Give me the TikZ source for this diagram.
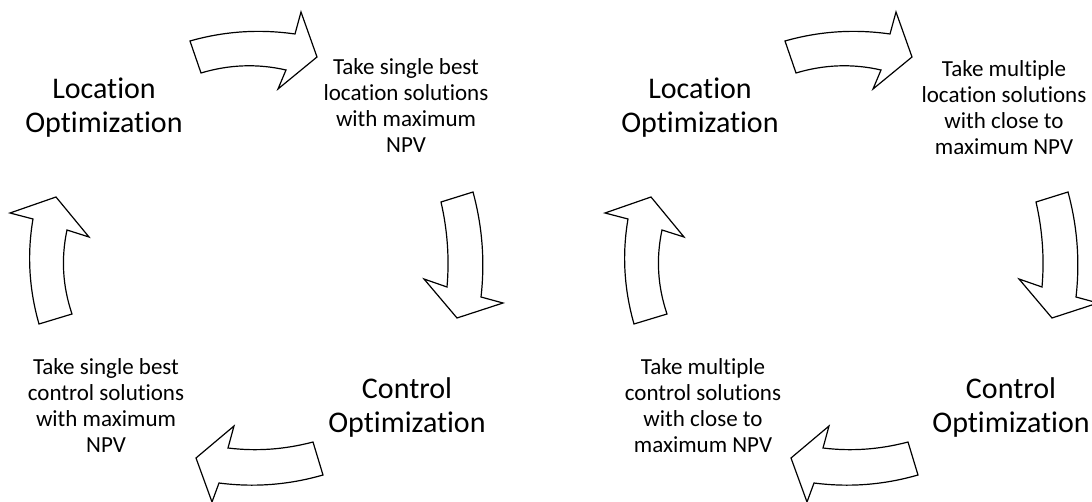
\documentclass[tikz,border=0pt]{standalone}
\usepackage{fontspec}
\setmainfont{Carlito}[RawFeature=-liga]
\usepackage{tikz}

\begin{document}
\begin{tikzpicture}
	[
		x=1pt, y=-1pt,
		stage/.style = {align=center, anchor=center, inner sep=0pt, font=\fontsize{30}{34}\selectfont},
		pick/.style = {align=center, anchor=center, inner sep=0pt, font=\fontsize{23}{26}\selectfont},
		cyclearrow/.style = {draw=black, fill=white, line width=1.2pt, line join=miter}
	]
	
	\useasboundingbox (0,0) rectangle (1092,502);
	
	\def\x{0}
	
	\node [stage] (locA) at ({\x + 104}, 108) {Location\\Optimization};
	\node [pick] (takeLocA) at ({\x + 406}, 106) {Take single best\\location solutions\\with maximum\\NPV};
	\node [stage] (ctrlA) at ({\x + 407}, 408) {Control\\Optimization};
	\node [pick] (takeCtrlA) at ({\x + 106}, 406) {Take single best\\control solutions\\with maximum\\NPV};
	
	\draw [cyclearrow] ({\x + 190}, 41) .. controls ({\x + 225}, 31) and ({\x + 260}, 29) .. ({\x + 295}, 34)
		-- ({\x + 301}, 12) -- ({\x + 317}, 57) -- ({\x + 278}, 89) -- ({\x + 286}, 70)
		.. controls ({\x + 257.7}, 63.5) and ({\x + 229.3}, 64.5) .. ({\x + 201}, 73) -- cycle;
	\draw [cyclearrow] ({\x + 441}, 202) -- ({\x + 473}, 192)
		.. controls ({\x + 482.5}, 227) and ({\x + 485}, 262) .. ({\x + 481}, 297)
		-- ({\x + 503}, 303) -- ({\x + 457}, 318) -- ({\x + 424}, 279) -- ({\x + 447}, 287)
		.. controls ({\x + 449.5}, 258.7) and ({\x + 447.5}, 230.3) .. ({\x + 441}, 202) -- cycle;
	\draw [cyclearrow] ({\x + 313}, 442) .. controls ({\x + 284.7}, 449.5) and ({\x + 256.3}, 451.5) .. ({\x + 228}, 448)
		-- ({\x + 234}, 426) -- ({\x + 196}, 458) -- ({\x + 212}, 502) -- ({\x + 219}, 483)
		.. controls ({\x + 253.7}, 487.5) and ({\x + 288.3}, 485) .. ({\x + 323}, 475) -- cycle;
	\draw [cyclearrow] ({\x + 39}, 324) -- ({\x + 72}, 314)
		.. controls ({\x + 62.5}, 286) and ({\x + 61}, 258) .. ({\x + 67}, 230)
		-- ({\x + 89}, 237) -- ({\x + 56}, 197) -- ({\x + 10}, 213) -- ({\x + 33}, 219)
		.. controls ({\x + 27}, 254) and ({\x + 29}, 289) .. ({\x + 39}, 324) -- cycle;
	
	\def\x{595}
	
	\node [stage] (locB) at ({\x + 105}, 108) {Location\\Optimization};
	\node [pick] (takeLocB) at ({\x + 409}, 108) {Take multiple\\location solutions\\with close to\\maximum NPV};
	\node [stage] (ctrlB) at ({\x + 416}, 408) {Control\\Optimization};
	\node [pick] (takeCtrlB) at ({\x + 108}, 406) {Take multiple\\control solutions\\with close to\\maximum NPV};
	
	\draw [cyclearrow] ({\x + 190}, 41) .. controls ({\x + 225}, 31) and ({\x + 260}, 29) .. ({\x + 295}, 34)
		-- ({\x + 301}, 12) -- ({\x + 317}, 57) -- ({\x + 278}, 89) -- ({\x + 286}, 70)
		.. controls ({\x + 257.7}, 63.5) and ({\x + 229.3}, 64.5) .. ({\x + 201}, 73) -- cycle;
	\draw [cyclearrow] ({\x + 441}, 202) -- ({\x + 473}, 192)
		.. controls ({\x + 482.5}, 227) and ({\x + 485}, 262) .. ({\x + 481}, 297)
		-- ({\x + 503}, 303) -- ({\x + 457}, 318) -- ({\x + 424}, 279) -- ({\x + 447}, 287)
		.. controls ({\x + 449.5}, 258.7) and ({\x + 447.5}, 230.3) .. ({\x + 441}, 202) -- cycle;
	\draw [cyclearrow] ({\x + 313}, 442) .. controls ({\x + 284.7}, 449.5) and ({\x + 256.3}, 451.5) .. ({\x + 228}, 448)
		-- ({\x + 234}, 426) -- ({\x + 196}, 458) -- ({\x + 212}, 502) -- ({\x + 219}, 483)
		.. controls ({\x + 253.7}, 487.5) and ({\x + 288.3}, 485) .. ({\x + 323}, 475) -- cycle;
	\draw [cyclearrow] ({\x + 39}, 324) -- ({\x + 72}, 314)
		.. controls ({\x + 62.5}, 286) and ({\x + 61}, 258) .. ({\x + 67}, 230)
		-- ({\x + 89}, 237) -- ({\x + 56}, 197) -- ({\x + 10}, 213) -- ({\x + 33}, 219)
		.. controls ({\x + 27}, 254) and ({\x + 29}, 289) .. ({\x + 39}, 324) -- cycle;
	
\end{tikzpicture}
\end{document}
